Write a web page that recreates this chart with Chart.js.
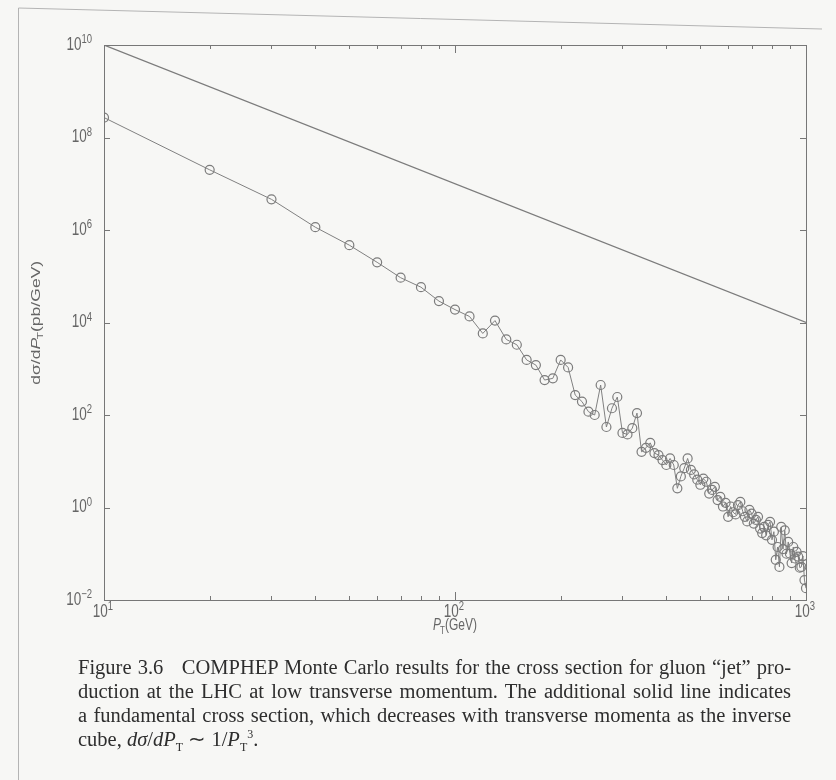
<!DOCTYPE html>
<html>
<head>
<meta charset="utf-8">
<title>Gluon jet cross section</title>
<script src="https://cdn.jsdelivr.net/npm/chart.js@4"></script>
<style>
  html, body { margin: 0; padding: 0; background: #f7f7f5; }
  #page { position: relative; width: 836px; height: 780px; overflow: hidden; }
  #chart { position: absolute; left: 0; top: 0; }
  #caption {
    position: absolute; left: 78px; top: 655px; width: 713px;
    font-family: "Liberation Serif", "Times New Roman", serif;
    font-size: 20.5px; line-height: 24px; color: #2e2e2e;
  }
  #caption div { white-space: nowrap; text-align: justify; text-align-last: justify; }
  #caption div.last { text-align-last: left; }
  #caption i { font-style: italic; }
  #caption sub, #caption sup { font-size: 12px; line-height: 0; }
</style>
</head>
<body>
<div id="page">
  <canvas id="chart" width="836" height="780"></canvas>
  <div id="caption">
    <div>Figure 3.6&nbsp;&nbsp; COMPHEP Monte Carlo results for the cross section for gluon “jet” pro-</div>
    <div>duction at the LHC at low transverse momentum. The additional solid line indicates</div>
    <div>a fundamental cross section, which decreases with transverse momenta as the inverse</div>
    <div class="last">cube, <i>dσ</i>/<i>dP</i><sub>T</sub> ∼ 1/<i>P</i><sub>T</sub><sup>3</sup>.</div>
  </div>
</div>
<script>
// transverse momentum bins (GeV)
const pT = [
  10, 20, 30, 40, 50, 60, 70, 80, 90, 100,
  110, 120, 130, 140, 150, 160, 170, 180, 190, 200,
  210, 220, 230, 240, 250, 260, 270, 280, 290, 300,
  310, 320, 330, 340, 350, 360, 370, 380, 390, 400,
  410, 420, 430, 440, 450, 460, 470, 480, 490, 500,
  510, 520, 530, 540, 550, 560, 570, 580, 590, 600,
  610, 620, 630, 640, 650, 660, 670, 680, 690, 700,
  710, 720, 730, 740, 750, 760, 770, 780, 790, 800,
  810, 820, 830, 840, 850, 860, 870, 880, 890, 900,
  910, 920, 930, 940, 950, 960, 970, 980, 990, 1000
];

// COMPHEP dsigma/dPT (pb/GeV)
const dSigma = [
  2.7e8, 2.0e7, 4.6e6, 1.15e6, 4.7e5, 2.0e5, 9.3e4, 5.8e4, 2.9e4, 1.9e4,
  1.35e4, 5.8e3, 1.1e4, 4.3e3, 3.3e3, 1.55e3, 1.2e3, 570, 620, 1550,
  1070, 270, 195, 118, 100, 445, 55, 140, 245, 41,
  38, 52, 110, 16, 19.5, 25, 15, 13.6, 10.6, 8.3,
  11.5, 8.3, 2.6, 4.7, 7.1, 11.5, 6.5, 5.2, 4.0, 3.1,
  4.2, 3.6, 2.0, 2.4, 2.8, 1.45, 1.7, 1.05, 1.26, 0.63,
  1.05, 0.79, 0.71, 1.12, 1.32, 0.83, 0.63, 0.5, 0.89, 0.74,
  0.45, 0.54, 0.63, 0.35, 0.28, 0.38, 0.25, 0.42, 0.49, 0.2,
  0.3, 0.074, 0.14, 0.052, 0.38, 0.126, 0.32, 0.1, 0.18, 0.1,
  0.063, 0.14, 0.079, 0.11, 0.087, 0.05, 0.052, 0.089, 0.027, 0.018
];

// 1/PT^3 reference line end points
const cubePT = [10, 1000];
const cubeSigma = [1e10, 1e4];

const xTickValues = [10, 100, 1000];
const xTickExps = ['1', '2', '3'];
const xMinorTicks = [20, 30, 40, 50, 60, 70, 80, 90, 200, 300, 400, 500, 600, 700, 800, 900];
const yTickValues = [1e-2, 1, 1e2, 1e4, 1e6, 1e8, 1e10];
const yTickExps = ['−2', '0', '2', '4', '6', '8', '10'];

const ink = '#666';
const font = '"Liberation Sans", Arial, sans-serif';
const stretch = 1.3; // plot text is set tall and narrow

// box around the plot with inward ticks on all four sides, power-of-ten labels, axis titles
const frameAndTitles = {
  id: 'frameAndTitles',
  beforeDraw(chart) {
    const ctx = chart.ctx;
    ctx.save();
    ctx.strokeStyle = '#b4b4b4';
    ctx.lineWidth = 1;
    ctx.beginPath();
    ctx.moveTo(18.5, 780);
    ctx.lineTo(18.5, 8);
    ctx.lineTo(822, 29);
    ctx.stroke();
    ctx.restore();
  },
  afterDraw(chart) {
    const { ctx, chartArea: a, scales: { x, y } } = chart;
    ctx.save();
    ctx.strokeStyle = '#777';
    ctx.lineWidth = 1;
    ctx.strokeRect(Math.round(a.left) + 0.5, Math.round(a.top) + 0.5, Math.round(a.width), Math.round(a.height));

    ctx.beginPath();
    const xt = (v, len) => {
      const px = Math.round(x.getPixelForValue(v)) + 0.5;
      ctx.moveTo(px, a.bottom); ctx.lineTo(px, a.bottom - len);
      ctx.moveTo(px, a.top); ctx.lineTo(px, a.top + len);
    };
    xTickValues.forEach(v => xt(v, 8));
    xMinorTicks.forEach(v => xt(v, 4));
    yTickValues.forEach(v => {
      const py = Math.round(y.getPixelForValue(v)) + 0.5;
      ctx.moveTo(a.left, py); ctx.lineTo(a.left + 6, py);
      ctx.moveTo(a.right, py); ctx.lineTo(a.right - 6, py);
    });
    ctx.stroke();

    ctx.fillStyle = ink;
    ctx.textAlign = 'left';
    ctx.textBaseline = 'middle';

    // tick labels: 10 with a raised exponent
    const pow = (exp, px, py, align) => {
      ctx.font = '13.5px ' + font;
      const bw = ctx.measureText('10').width;
      ctx.font = '9.5px ' + font;
      const ew = ctx.measureText(exp).width;
      const x0 = align === 'right' ? px - bw - ew : px - (bw + ew) / 2;
      ctx.save();
      ctx.translate(x0, py);
      ctx.scale(1, stretch);
      ctx.font = '13.5px ' + font;
      ctx.fillText('10', 0, 0);
      ctx.font = '9.5px ' + font;
      ctx.fillText(exp, bw, -4);
      ctx.restore();
    };
    yTickValues.forEach((v, i) => pow(yTickExps[i], a.left - 12, y.getPixelForValue(v), 'right'));
    xTickValues.forEach((v, i) => pow(xTickExps[i], x.getPixelForValue(v) - 1, a.bottom + 12, 'center'));

    // italic P with subscript T, then the unit
    ctx.textBaseline = 'alphabetic';
    const drawPT = (x0, tail, size) => {
      ctx.font = 'italic ' + size + 'px ' + font;
      ctx.fillText('P', x0, 0);
      let w = ctx.measureText('P').width;
      ctx.font = (size * 0.67) + 'px ' + font;
      ctx.fillText('T', x0 + w - 1, 3);
      w += ctx.measureText('T').width - 1;
      ctx.font = size + 'px ' + font;
      ctx.fillText(tail, x0 + w, 0);
    };

    // x title: P_T(GeV)
    ctx.font = '12px ' + font;
    const xw = 7 + 5 + ctx.measureText('(GeV)').width;
    ctx.save();
    ctx.translate((a.left + a.right) / 2 - xw / 2, 630);
    ctx.scale(1, stretch);
    drawPT(0, '(GeV)', 12);
    ctx.restore();

    // y title: dσ/dP_T(pb/GeV), rotated
    ctx.save();
    ctx.translate(40, (a.top + a.bottom) / 2);
    ctx.scale(1, stretch);
    ctx.rotate(-Math.PI / 2);
    ctx.font = '13.5px ' + font;
    const head = 'dσ/d';
    const hw = ctx.measureText(head).width;
    const total = hw + 8 + 6 + ctx.measureText('(pb/GeV)').width;
    ctx.fillText(head, -total / 2, 0);
    drawPT(-total / 2 + hw, '(pb/GeV)', 13.5);
    ctx.restore();
    ctx.restore();
  }
};

const ctx = document.getElementById('chart').getContext('2d');
new Chart(ctx, {
  type: 'scatter',
  data: {
    datasets: [
      {
        label: 'COMPHEP',
        data: pT.map((p, i) => ({ x: p, y: dSigma[i] })),
        showLine: true,
        borderColor: '#808080',
        borderWidth: 1,
        pointRadius: 4.5,
        pointBorderWidth: 1.2,
        pointBorderColor: '#7c7c7c',
        pointBackgroundColor: 'rgba(255,255,255,0)'
      },
      {
        label: '1/PT^3',
        data: cubePT.map((p, i) => ({ x: p, y: cubeSigma[i] })),
        showLine: true,
        borderColor: '#7c7c7c',
        borderWidth: 1.2,
        pointRadius: 0
      }
    ]
  },
  options: {
    responsive: false,
    animation: false,
    layout: { padding: { left: 0, top: 45, right: 30, bottom: 0 } },
    plugins: { legend: { display: false }, tooltip: { enabled: false } },
    scales: {
      x: {
        type: 'logarithmic',
        min: 10,
        max: 1000,
        grid: { display: false, drawTicks: false },
        border: { display: false },
        afterBuildTicks: s => { s.ticks = xTickValues.map(v => ({ value: v })); },
        afterFit: s => { s.height = 180; },
        ticks: { display: false }
      },
      y: {
        type: 'logarithmic',
        min: 1e-2,
        max: 1e10,
        grid: { display: false, drawTicks: false },
        border: { display: false },
        afterBuildTicks: s => { s.ticks = yTickValues.map(v => ({ value: v })); },
        afterFit: s => { s.width = 104; },
        ticks: { display: false }
      }
    }
  },
  plugins: [frameAndTitles]
});
</script>
</body>
</html>
